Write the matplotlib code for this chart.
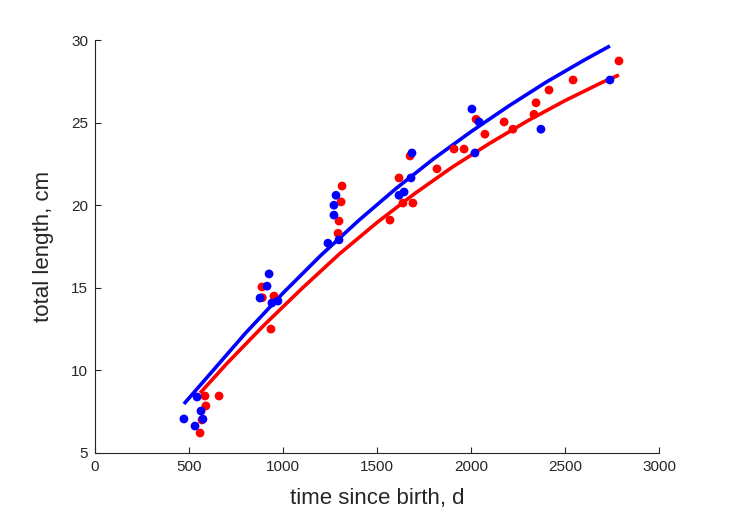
import matplotlib
matplotlib.use("Agg")
import matplotlib.pyplot as plt

# Female (red) observations
red_t = [559, 569, 590, 585, 660, 888, 890, 952, 936, 1314, 1309, 1298, 1293,
         1569, 1617, 1638, 1691, 1676, 1819, 1910, 1963, 2027, 2074, 2176,
         2223, 2335, 2346, 2415, 2543, 2787]
red_len = [6.21, 7.0, 7.85, 8.45, 8.45, 15.05, 14.4, 14.5, 12.5, 21.16, 20.2,
           19.04, 18.3, 19.1, 21.65, 20.13, 20.13, 22.98, 22.2, 23.4, 23.4,
           25.2, 24.3, 25.04, 24.6, 25.5, 26.2, 26.97, 27.58, 28.73]

# Male (blue) observations
blue_t = [473, 532, 543, 564, 574, 878, 915, 926, 941, 973, 1239, 1298, 1271,
          1271, 1282, 1617, 1644, 1681, 1686, 2005, 2043, 2021, 2372, 2739]
blue_len = [7.06, 6.63, 8.39, 7.54, 7.05, 14.38, 15.1, 15.84, 14.08, 14.2,
            17.7, 17.9, 19.4, 20.0, 20.6, 20.6, 20.8, 21.65, 23.16, 25.82,
            25.04, 23.16, 24.6, 27.58]

# Fitted growth curves
blue_fit_t = [473, 600, 800, 1000, 1200, 1400, 1600, 1800, 2000, 2200, 2400,
              2600, 2739]
blue_fit_len = [7.97, 9.63, 12.25, 14.68, 16.95, 19.05, 21.0, 22.8, 24.45,
                26.0, 27.45, 28.77, 29.64]
red_fit_t = [559, 700, 900, 1100, 1300, 1500, 1700, 1900, 2100, 2300, 2500,
             2700, 2787]
red_fit_len = [8.63, 10.4, 12.75, 14.95, 17.05, 18.95, 20.7, 22.3, 23.75,
               25.1, 26.33, 27.45, 27.88]

xticks = [0, 500, 1000, 1500, 2000, 2500, 3000]
yticks = [5, 10, 15, 20, 25, 30]

plt.rcParams['font.family'] = ['Liberation Sans', 'DejaVu Sans']

fig = plt.figure(figsize=(7.29, 5.21), dpi=100)
ax = fig.add_axes([95 / 729, 68 / 521, 564 / 729, 413 / 521])

ax.plot(red_fit_t, red_fit_len, color=(1, 0, 0), lw=2.6, solid_capstyle='butt',
        solid_joinstyle='round', zorder=2)
ax.plot(blue_fit_t, blue_fit_len, color=(0, 0, 1), lw=2.6, solid_capstyle='butt',
        solid_joinstyle='round', zorder=2)
ax.scatter(red_t, red_len, s=40, color=(1, 0, 0), edgecolors='none', zorder=3)
ax.scatter(blue_t, blue_len, s=40, color=(0, 0, 1), edgecolors='none', zorder=4)

ax.set_xlim(0, 3000)
ax.set_ylim(5, 30)
ax.set_xticks(xticks)
ax.set_yticks(yticks)
ax.set_xticklabels([str(v) for v in xticks])
ax.set_yticklabels([str(v) for v in yticks])

axcol = '#262626'
for side in ['top', 'right']:
    ax.spines[side].set_visible(False)
for side in ['left', 'bottom']:
    ax.spines[side].set_color(axcol)
    ax.spines[side].set_linewidth(0.8)
ax.tick_params(direction='in', length=4, width=0.8, colors=axcol,
               labelsize=11, pad=5)

ax.set_xlabel('time since birth, d', fontsize=16, color=axcol, labelpad=10)
ax.set_ylabel('total length, cm', fontsize=16, color=axcol, labelpad=12)

fig.savefig('out.png', dpi=100, facecolor='white')
